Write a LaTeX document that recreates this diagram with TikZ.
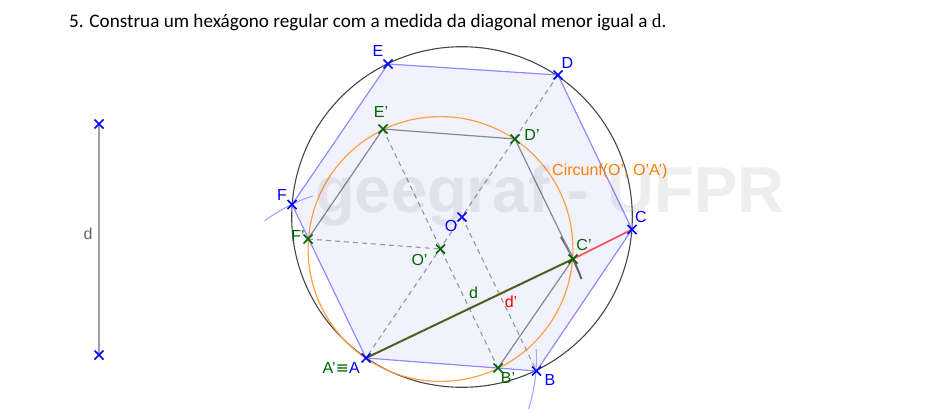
\documentclass[tikz,border=0pt]{standalone}
\usepackage{fontspec}
\setmainfont{Liberation Sans}
\newfontfamily\titlefont{Carlito}
\newfontfamily\serifd{Liberation Serif}
\newfontfamily\symfont{DejaVu Sans}
\definecolor{ptblue}{RGB}{0,0,255}
\definecolor{ptgreen}{RGB}{0,100,0}
\definecolor{hexfill}{RGB}{242,242,254}
\definecolor{hexline}{RGB}{140,140,255}
\definecolor{circ}{RGB}{70,70,70}
\definecolor{orangec}{RGB}{255,160,70}
\definecolor{orangel}{RGB}{255,127,0}
\definecolor{graysolid}{RGB}{135,135,145}
\definecolor{graydash}{RGB}{150,150,160}
\definecolor{olive}{RGB}{80,95,25}
\definecolor{redl}{RGB}{255,80,90}
\definecolor{arcl}{RGB}{165,165,255}
\tikzset{
  x=1pt,y=-1pt,
  lab/.style={inner sep=0pt,font=\fontsize{16}{16}\selectfont},
  bluelab/.style={lab,text=ptblue},
  greenlab/.style={lab,text=ptgreen},
  hexedge/.style={draw=hexline,line width=1.2pt},
  solidedge/.style={draw=graysolid,line width=1.2pt},
  dashedge/.style={draw=graydash,line width=1.1pt,dash pattern=on 5pt off 4pt},
  bluex/.style={draw=ptblue,line width=1.6pt},
  greenx/.style={draw=ptgreen,line width=1.6pt},
  constr/.style={draw=arcl,line width=1.1pt},
}
\newcommand{\xmark}[2]{\draw[#1] ($(#2)+(-4.5,-4.5)$) -- ($(#2)+(4.5,4.5)$) ($(#2)+(-4.5,4.5)$) -- ($(#2)+(4.5,-4.5)$);}
\usetikzlibrary{calc}
\begin{document}
\begin{tikzpicture}
\useasboundingbox (0,0) rectangle (950,420);
\coordinate (A) at (366,358);
\coordinate (B) at (536.5,371);
\coordinate (C) at (632,229.5);
\coordinate (D) at (558,75);
\coordinate (E) at (388,64);
\coordinate (F) at (292,204.5);
\coordinate (O) at (462,217);
\coordinate (Bp) at (498,368);
\coordinate (Cp) at (573,259);
\coordinate (Dp) at (515,139);
\coordinate (Ep) at (383,129);
\coordinate (Fp) at (308,239);
\coordinate (Op) at (440.5,249);
\coordinate (d1) at (99,124);
\coordinate (d2) at (99,355);
% hexagon fill
\fill[hexfill] (A) -- (B) -- (C) -- (D) -- (E) -- (F) -- cycle;
% circles
\draw[circ,line width=1.1pt] (O) circle (170.3);
\draw[orangec,line width=1.2pt] (Op) circle (132.4);
% hexagon edges
\draw[hexedge] (A) -- (B) -- (C) -- (D) -- (E) -- (F) -- cycle;
% construction arcs centred on A
\draw[constr] (312.7,196) arc[start angle=-108.2,end angle=-126.5,radius=170.5];
\draw[constr] (536.2,349) arc[start angle=-3,end angle=17.4,radius=170.5];
\draw[draw=circ!85,line width=2pt] (561,237) arc[start angle=-31.8,end angle=-20.1,radius=229.5];
% inner hexagon
\draw[solidedge] (Ep) -- (Dp);
\draw[solidedge] (Dp) -- (Cp);
\draw[solidedge] (Cp) -- (Bp);
\draw[solidedge] (Ep) -- (Fp);
% dashed diagonals
\draw[dashedge] (D) -- (A);
\draw[dashedge] (Ep) -- (Bp);
\draw[dashedge] (Fp) -- (Op);
\draw[dashedge] (O) -- (B);
% segment d
\draw[draw=graysolid!80!white,line width=1.6pt] (d1) -- (d2);
% diagonal
\draw[olive,line width=2pt] (A) -- (Cp);
\draw[redl,line width=1.7pt] (Cp) -- (C);
% marks
\xmark{bluex}{A}\xmark{bluex}{B}\xmark{bluex}{C}\xmark{bluex}{D}\xmark{bluex}{E}\xmark{bluex}{F}\xmark{bluex}{O}
\xmark{bluex}{d1}\xmark{bluex}{d2}
\xmark{greenx}{Bp}\xmark{greenx}{Cp}\xmark{greenx}{Dp}\xmark{greenx}{Ep}\xmark{greenx}{Fp}\xmark{greenx}{Op}
% labels
\node[bluelab] (lE) at (378,51) {E};
\node[bluelab] (lD) at (567.5,63) {D};
\node[bluelab] (lC) at (641,217) {C};
\node[bluelab] (lB) at (550,380) {B};
\node[bluelab] (lF) at (282,195) {F};
\node[bluelab] (lO) at (451,226) {O};
\node[greenlab] (lOp) at (419.5,260) {O'};
\node[greenlab] (lEp) at (381,112) {E'};
\node[greenlab] (lDp) at (532,135) {D'};
\node[greenlab] (lCp) at (584,245) {C'};
\node[greenlab] (lBp) at (508,378) {B'};
\node[greenlab] (lFp) at (298,236) {F'};
\node[greenlab] (ld) at (473.5,293) {d};
\node[lab,text=red] (ldp) at (511,302) {d'};
\node[lab,anchor=east] (lAA) at (360,368) {\textcolor{ptgreen}{A'{\symfont ≡}}\textcolor{ptblue}{A}};
\node[lab,text=orangel,anchor=west] (lcirc) at (552,171) {Circunf(O', O'A')};
\node[lab,text=black!60] (lds) at (88,234) {d};
% watermark
\node[inner sep=0pt,anchor=base west,font=\fontsize{65}{65}\selectfont\bfseries,text=black,opacity=0.065,text opacity=0.065] (wm) at (315,212) {geegraf - UFPR};
% title
\node[inner sep=0pt,anchor=base west,font=\fontsize{19.15}{19.15}\selectfont\titlefont,text=black] (title) at (69,28) {5. Construa um hexágono regular com a medida da diagonal menor igual a {\serifd d}.};
\end{tikzpicture}
\end{document}
